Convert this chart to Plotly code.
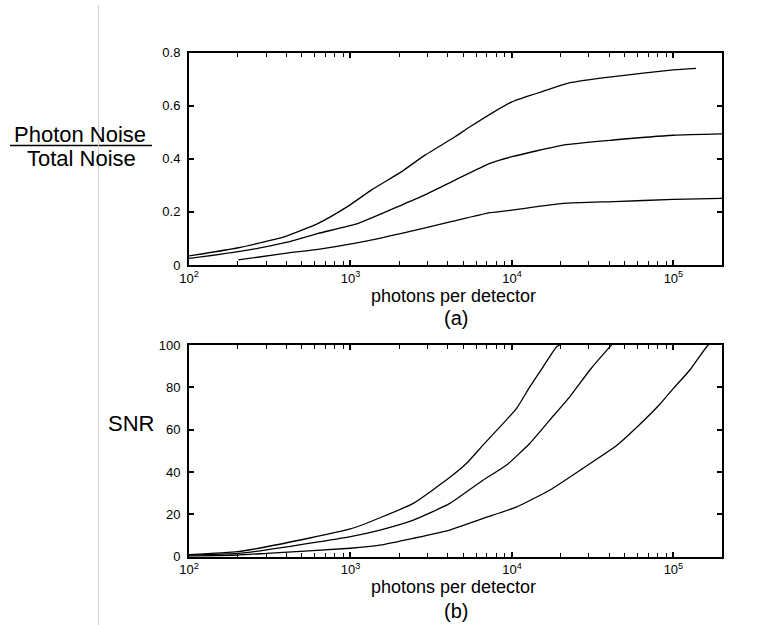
import plotly.graph_objects as go

# ---- data ----
a1_x = [100, 202, 393, 631, 968, 1352, 2075, 2893, 4440, 5500, 10000, 16400, 22900, 42600, 100000, 138000]
a1_y = [0.034, 0.065, 0.107, 0.157, 0.222, 0.283, 0.352, 0.414, 0.483, 0.521, 0.615, 0.659, 0.687, 0.71, 0.735, 0.741]
a2_x = [100, 202, 393, 631, 1117, 2075, 2893, 4440, 7310, 10000, 20800, 42600, 100000, 200000]
a2_y = [0.025, 0.05, 0.084, 0.119, 0.157, 0.226, 0.264, 0.32, 0.383, 0.408, 0.452, 0.471, 0.489, 0.494]
a3_x = [202, 393, 631, 1117, 2075, 4200, 7310, 10000, 20800, 42600, 100000, 200000]
a3_y = [0.019, 0.044, 0.059, 0.084, 0.119, 0.163, 0.197, 0.207, 0.232, 0.239, 0.247, 0.251]

b1_x = [100, 200, 303, 1000, 1524, 2450, 4130, 5240, 6640, 8830, 10690, 12920, 15630, 18900, 19800]
b1_y = [1.0, 2.4, 4.7, 13.1, 18.4, 25.2, 37.5, 44.1, 52.8, 63.0, 70.1, 80.3, 89.8, 99.2, 100]
b2_x = [100, 200, 303, 1000, 1524, 2450, 4130, 6640, 9270, 12920, 17180, 22850, 30400, 40500, 41400]
b2_y = [0.8, 1.6, 3.2, 9.5, 12.6, 17.3, 25.2, 36.2, 43.3, 53.6, 64.6, 75.6, 88.2, 99.2, 100]
b3_x = [100, 200, 303, 1000, 1524, 2450, 4130, 6640, 10690, 17180, 27600, 44500, 59100, 82400, 100000, 126500, 160600, 165000]
b3_y = [0.3, 0.8, 1.6, 4.0, 5.5, 8.7, 12.6, 18.1, 23.5, 31.5, 41.8, 52.5, 61.0, 72.0, 79.5, 88.2, 99.2, 100]

x_tickvals = [100, 1000, 10000, 100000]
x_ticktext = ["10<sup>2</sup>", "10<sup>3</sup>", "10<sup>4</sup>", "10<sup>5</sup>"]
a_tickvals = [0, 0.2, 0.4, 0.6, 0.8]
a_ticktext = ["0", "0.2", "0.4", "0.6", "0.8"]
b_tickvals = [0, 20, 40, 60, 80, 100]
b_ticktext = ["0", "20", "40", "60", "80", "100"]

W, H = 776, 625
FONT = "Liberation Sans, Arial, sans-serif"

def px(x):
    return x / W

def py(y):
    return 1 - y / H

minor_vals = [m * 10 ** e for e in range(2, 6) for m in range(2, 10)]

fig = go.Figure()
line = dict(color="black", width=1.3, shape="spline", smoothing=0.5)
for xs, ys in [(a1_x, a1_y), (a2_x, a2_y), (a3_x, a3_y)]:
    fig.add_trace(go.Scatter(x=xs, y=ys, mode="lines", line=line, xaxis="x", yaxis="y", showlegend=False))
for xs, ys in [(b1_x, b1_y), (b2_x, b2_y), (b3_x, b3_y)]:
    fig.add_trace(go.Scatter(x=xs, y=ys, mode="lines", line=line, xaxis="x2", yaxis="y2", showlegend=False))

def xaxis(domain, anchor):
    return dict(type="log", range=[2, 5.301], domain=domain, anchor=anchor,
                tickvals=x_tickvals, ticktext=x_ticktext, ticks="inside", ticklen=5,
                tickwidth=1.5, tickcolor="black", showline=True, linecolor="black",
                linewidth=2, mirror="ticks", showgrid=False, zeroline=False,
                automargin=False,
                tickfont=dict(family=FONT, size=13, color="black"),
                minor=dict(tickvals=minor_vals, ticks="inside", ticklen=4,
                           tickcolor="black", tickwidth=1.2, showgrid=False))

def yaxis(domain, anchor, rng, tv, tt):
    return dict(range=rng, domain=domain, anchor=anchor, tickvals=tv, ticktext=tt,
                ticks="inside", ticklen=5, tickwidth=1.5, tickcolor="black",
                showline=True, linecolor="black", linewidth=2, mirror="ticks",
                showgrid=False, zeroline=False, ticklabelstandoff=4, automargin=False,
                tickfont=dict(family=FONT, size=13, color="black"))

fig.update_layout(
    width=W, height=H, autosize=False,
    margin=dict(l=0, r=0, t=0, b=0, pad=0, autoexpand=False),
    paper_bgcolor="white", plot_bgcolor="white",
    xaxis=xaxis([px(189), px(722)], "y"),
    yaxis=yaxis([py(265), py(52.7)], "x", [0, 0.8], a_tickvals, a_ticktext),
    xaxis2=xaxis([px(189), px(722)], "y2"),
    yaxis2=yaxis([py(556.7), py(345)], "x2", [0, 100], b_tickvals, b_ticktext),
)

def ann(text, x, y, size):
    fig.add_annotation(text=text, x=px(x), y=py(y), xref="paper", yref="paper",
                       showarrow=False, xanchor="center", yanchor="middle",
                       font=dict(family=FONT, size=size, color="black"))

ann("Photon Noise", 80, 134, 22)
ann("Total Noise", 81, 158, 22)
ann("SNR", 131, 423, 22)
ann("photons per detector", 453, 296, 18)
ann("(a)", 456, 318, 20)
ann("photons per detector", 453, 587, 18)
ann("(b)", 456, 611, 20)

fig.add_shape(type="line", xref="paper", yref="paper", x0=px(10), x1=px(152),
              y0=py(145.5), y1=py(145.5), line=dict(color="black", width=1.5))
fig.add_shape(type="line", xref="paper", yref="paper", x0=px(98.5), x1=px(98.5),
              y0=py(5), y1=py(625), line=dict(color="#d0d0d0", width=1))

fig.write_html("out.html", config={"displayModeBar": False})

# remove default page margins so the figure sits at the window origin
with open("out.html", "r", encoding="utf-8") as f:
    html = f.read()
html = html.replace("<head>", "<head><style>html,body{margin:0;padding:0;overflow:hidden;}</style>", 1)
with open("out.html", "w", encoding="utf-8") as f:
    f.write(html)
